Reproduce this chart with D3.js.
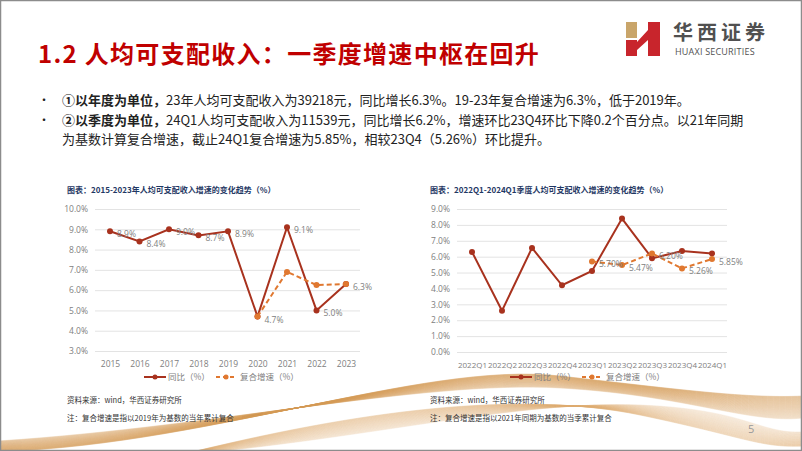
<!DOCTYPE html>
<html>
<head>
<meta charset="utf-8">
<script src="https://cdn.jsdelivr.net/npm/d3@7"></script>
<style>
  html, body { margin: 0; padding: 0; background: #fff; }
  svg { display: block; }
</style>
</head>
<body>
<svg id="slide" width="802" height="451"></svg>
<script>
// data
const years = ["2015", "2016", "2017", "2018", "2019", "2020", "2021", "2022", "2023"];
const yearYoy = [8.9, 8.4, 9.0, 8.7, 8.9, 4.7, 9.1, 5.0, 6.3];
const yearCagr = [null, null, null, null, null, 4.7, 6.9, 6.25, 6.3];
const yearTicks = [3, 4, 5, 6, 7, 8, 9, 10];

const quarters = ["2022Q1", "2022Q2", "2022Q3", "2022Q4", "2023Q1", "2023Q2", "2023Q3", "2023Q4", "2024Q1"];
const quarterYoy = [6.3, 2.6, 6.55, 4.2, 5.1, 8.4, 5.9, 6.35, 6.2];
const quarterCagr = [null, null, null, null, 5.70, 5.47, 6.20, 5.26, 5.85];
const quarterTicks = [0, 1, 2, 3, 4, 5, 6, 7, 8, 9];

const legendNames = ["同比（%）", "复合增速（%）"];

const svg = d3.select("#slide");
const cjk = "'Noto Sans CJK SC', 'Noto Sans', sans-serif";
const latin = "'Open Sans', 'Noto Sans', sans-serif";
const red = "#A8321E";
const orange = "#E07830";

// ---- background decoration (gold swooshes at the bottom) ----
const deco = svg.append("g").attr("fill", "none");
d3.range(0, 45).forEach(i => {
  const t = i / 44;
  deco.append("path")
    .attr("d", `M ${-20} ${452 - t * 10} C ${200} ${450 - t * 20}, ${420} ${360 + t * 20}, ${560} ${376 + t * 12} S ${760} ${400 + t * 30}, ${820} ${395 + t * 20}`)
    .attr("stroke", "#D49A55")
    .attr("stroke-opacity", 0.22 + 0.25 * (1 - t))
    .attr("stroke-width", 0.8);
});
d3.range(0, 35).forEach(i => {
  const t = i / 34;
  deco.append("path")
    .attr("d", `M ${180} ${455} C ${360} ${440 - t * 30}, ${520} ${400 - t * 10}, ${640} ${405 + t * 10} S ${760} ${440 + t * 10}, ${820} ${430 + t * 15}`)
    .attr("stroke", "#DDAA6E")
    .attr("stroke-opacity", 0.18 + 0.22 * t)
    .attr("stroke-width", 0.8);
});

// frame
svg.append("rect").attr("x", 0.5).attr("y", 0.5).attr("width", 801).attr("height", 450)
  .attr("fill", "none").attr("stroke", "#8c8c8c").attr("stroke-width", 1.5);

// ---- title ----
svg.append("text")
  .attr("x", 38).attr("y", 63)
  .attr("font-family", cjk).attr("font-size", 24).attr("font-weight", "bold")
  .attr("letter-spacing", 1.3)
  .attr("fill", "#C00000")
  .text("1.2 人均可支配收入：一季度增速中枢在回升");

// ---- logo ----
const logo = svg.append("g");
logo.append("polygon").attr("points", "626,22 637,22 637,38 626,38").attr("fill", "#C9A56A");
logo.append("polygon").attr("points", "626,40 637,40 637,56 626,56").attr("fill", "#C8252C");
logo.append("polygon").attr("points", "637,42 648,30 648,22 660,22 660,56 648,56 648,40 637,50").attr("fill", "#C8252C");
logo.append("text").attr("x", 673).attr("y", 40)
  .attr("font-family", cjk).attr("font-size", 20).attr("font-weight", "bold")
  .attr("letter-spacing", 4).attr("fill", "#505050").text("华西证券");
logo.append("text").attr("x", 675).attr("y", 55)
  .attr("font-family", latin).attr("font-size", 9).attr("letter-spacing", 0.2).attr("fill", "#505050")
  .text("HUAXI SECURITIES");

// ---- bullets ----
const bullets = [
  { y: 105, bold: "①以年度为单位，", rest: "23年人均可支配收入为39218元，同比增长6.3%。19-23年复合增速为6.3%，低于2019年。" },
  { y: 125, bold: "②以季度为单位，", rest: "24Q1人均可支配收入为11539元，同比增长6.2%，增速环比23Q4环比下降0.2个百分点。以21年同期" },
  { y: 144, bold: "", rest: "为基数计算复合增速，截止24Q1复合增速为5.85%，相较23Q4（5.26%）环比提升。" }
];
bullets.forEach((b, i) => {
  if (i < 2) {
    svg.append("text").attr("x", 38).attr("y", b.y).attr("font-family", cjk)
      .attr("font-size", 12).attr("fill", "#222").text("•");
  }
  const t = svg.append("text").attr("x", 62).attr("y", b.y)
    .attr("font-family", cjk).attr("font-size", 13).attr("fill", "#222");
  if (b.bold) t.append("tspan").attr("font-weight", "bold").text(b.bold);
  t.append("tspan").text(b.rest);
});

// ---- chart helper ----
function drawChart(opt) {
  const g = svg.append("g");
  const x = d3.scalePoint().domain(opt.cats).range(opt.xRange);
  const y = d3.scaleLinear().domain(d3.extent(opt.ticks)).range(opt.yRange);

  g.append("text").attr("x", opt.titleX).attr("y", 193)
    .attr("font-family", cjk).attr("font-size", 8).attr("font-weight", "bold")
    .attr("fill", "#1F3864").text(opt.title);

  const yAxis = g.append("g").attr("transform", `translate(${opt.gridX[0]},0)`)
    .call(d3.axisLeft(y).tickValues(opt.ticks).tickSize(-(opt.gridX[1] - opt.gridX[0]))
      .tickFormat(d => d3.format(".1f")(d) + "%"));
  yAxis.select(".domain").remove();
  yAxis.selectAll(".tick line").attr("stroke", "#e3e3e3").attr("stroke-width", 1);
  yAxis.selectAll(".tick text").attr("x", -7).attr("fill", "#808080")
    .attr("font-family", latin).attr("font-size", 8.5);

  const xAxis = g.append("g").attr("transform", `translate(0,${opt.yRange[0]})`)
    .call(d3.axisBottom(x).tickSize(0).tickPadding(10));
  xAxis.select(".domain").remove();
  xAxis.selectAll(".tick text").attr("fill", "#808080")
    .attr("font-family", latin).attr("font-size", opt.xFont);

  const pts = (vals) => opt.cats.map((c, i) => ({ c, v: vals[i] })).filter(d => d.v != null);
  const line = d3.line().x(d => x(d.c)).y(d => y(d.v));

  const yoy = pts(opt.yoy), cagr = pts(opt.cagr);
  g.append("path").datum(yoy).attr("d", line).attr("fill", "none")
    .attr("stroke", red).attr("stroke-width", 2);
  g.selectAll(".pYoy").data(yoy).enter().append("circle")
    .attr("cx", d => x(d.c)).attr("cy", d => y(d.v)).attr("r", 3).attr("fill", red);
  g.append("path").datum(cagr).attr("d", line).attr("fill", "none")
    .attr("stroke", orange).attr("stroke-width", 2).attr("stroke-dasharray", "5,3");
  g.selectAll(".pCagr").data(cagr).enter().append("circle")
    .attr("cx", d => x(d.c)).attr("cy", d => y(d.v)).attr("r", 3).attr("fill", orange);

  const labelled = opt.labelSeries === "yoy" ? yoy : cagr;
  g.selectAll(".lab").data(labelled).enter().append("text")
    .attr("x", d => x(d.c) + 7).attr("y", d => y(d.v) + 6)
    .attr("font-family", latin).attr("font-size", 8.5).attr("fill", "#808080")
    .text(d => d3.format(opt.labelFmt)(d.v) + "%");

  // legend
  const lg = g.append("g").attr("transform", `translate(${opt.legendX},377)`);
  lg.append("line").attr("x1", 0).attr("x2", 22).attr("stroke", red).attr("stroke-width", 2);
  lg.append("circle").attr("cx", 11).attr("r", 2.5).attr("fill", red);
  lg.append("text").attr("x", 24).attr("y", 3).attr("font-family", cjk).attr("font-size", 8.5)
    .attr("fill", "#808080").text(legendNames[0]);
  lg.append("line").attr("x1", 72).attr("x2", 92).attr("stroke", orange).attr("stroke-width", 2)
    .attr("stroke-dasharray", "4,3");
  lg.append("circle").attr("cx", 82).attr("r", 2.5).attr("fill", orange);
  lg.append("text").attr("x", 96).attr("y", 3).attr("font-family", cjk).attr("font-size", 8.5)
    .attr("fill", "#808080").text(legendNames[1]);

  g.append("text").attr("x", opt.titleX).attr("y", 403)
    .attr("font-family", cjk).attr("font-size", 7.5).attr("fill", "#333")
    .text("资料来源：wind，华西证券研究所");
  g.append("text").attr("x", opt.titleX).attr("y", 421)
    .attr("font-family", cjk).attr("font-size", 7.5).attr("fill", "#333")
    .text(opt.note);
}

drawChart({
  cats: years, yoy: yearYoy, cagr: yearCagr, ticks: yearTicks,
  xRange: [110, 346], yRange: [351, 209], gridX: [95, 360], xFont: 8.5,
  title: "图表：2015-2023年人均可支配收入增速的变化趋势（%）", titleX: 67,
  labelSeries: "yoy", labelFmt: ".1f", legendX: 144,
  note: "注：复合增速是指以2019年为基数的当年累计复合"
});

drawChart({
  cats: quarters, yoy: quarterYoy, cagr: quarterCagr, ticks: quarterTicks,
  xRange: [472, 712], yRange: [352, 209], gridX: [457, 727], xFont: 8,
  title: "图表：2022Q1-2024Q1季度人均可支配收入增速的变化趋势（%）", titleX: 430,
  labelSeries: "cagr", labelFmt: ".2f", legendX: 510,
  note: "注：复合增速是指以2021年同期为基数的当季累计复合"
});

// page number
svg.append("text").attr("x", 748).attr("y", 433).attr("font-family", latin)
  .attr("font-size", 11).attr("fill", "#999").text("5");
</script>
</body>
</html>
